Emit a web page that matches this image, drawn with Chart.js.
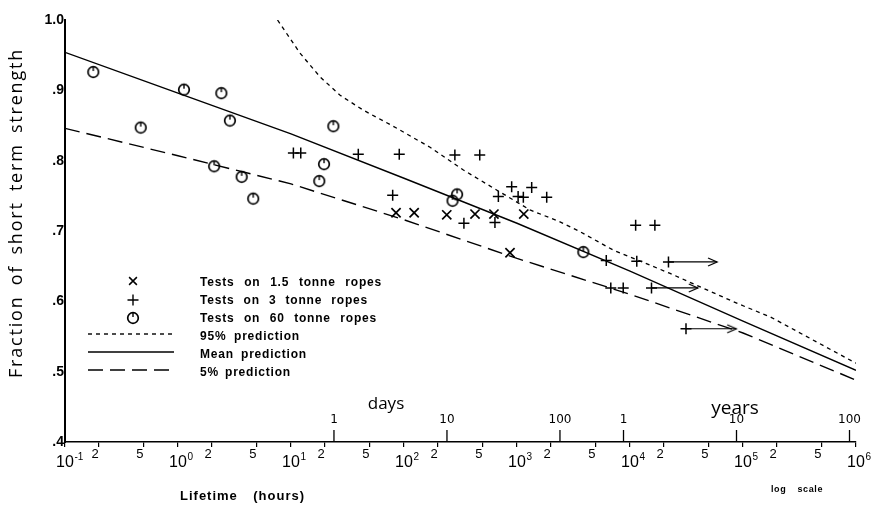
<!DOCTYPE html>
<html>
<head>
<meta charset="utf-8">
<script src="https://cdn.jsdelivr.net/npm/chart.js@4/dist/chart.umd.min.js"></script>
<style>
  html, body { margin: 0; padding: 0; background: #fff; }
  #c { display: block; }
</style>
</head>
<body>
<canvas id="c" width="871" height="506"></canvas>
<script>
// lifetime in hours, strength as fraction of short term strength
var ropes15Hours = [85, 123, 239, 425, 625, 1148, 867];
var ropes15Strength = [0.726, 0.726, 0.723, 0.724, 0.724, 0.724, 0.669];

var ropes3Hours = [10.5, 12.2, 39.4, 90.8, 282, 468, 79.4, 339, 638, 684, 897, 1023, 1138, 1349, 1832,
  6166, 11220, 16600, 11480, 6761, 8710];
var ropes3Strength = [0.811, 0.811, 0.809, 0.809, 0.808, 0.808, 0.751, 0.711, 0.712, 0.749, 0.763, 0.749, 0.748, 0.762, 0.748,
  0.658, 0.708, 0.708, 0.657, 0.619, 0.619];

// 3 tonne ropes still unbroken (run-outs)
var runoutStartHours = [21900, 15500, 31300];
var runoutEndHours = [58900, 39800, 87100];
var runoutStrength = [0.656, 0.619, 0.561];

var ropes60Hours = [0.178, 0.468, 1.13, 2.42, 2.88, 2.09, 3.66, 4.63, 23.7, 19.6, 17.8, 295, 269, 3864];
var ropes60Strength = [0.926, 0.847, 0.901, 0.896, 0.857, 0.792, 0.777, 0.746, 0.849, 0.795, 0.771, 0.752, 0.743, 0.670];

var meanHours = [0.1, 1, 10, 100, 1000, 10000, 100000, 1000000];
var meanStrength = [0.954, 0.896, 0.838, 0.775, 0.711, 0.643, 0.572, 0.502];
var lowHours = [0.1, 1, 10, 100, 1000, 10000, 100000, 1000000];
var lowStrength = [0.846, 0.807, 0.767, 0.716, 0.661, 0.610, 0.555, 0.488];
var highHours = [7.6, 12, 18.1, 27.2, 43.4, 86.7, 170, 333, 665, 1303, 2399, 3614, 7079, 22390, 89125, 173780, 1000000];
var highStrength = [1.0, 0.953, 0.919, 0.893, 0.872, 0.846, 0.819, 0.787, 0.758, 0.730, 0.713, 0.699, 0.673, 0.640, 0.597, 0.578, 0.512];

var decadeHours = [0.1, 1, 10, 100, 1000, 10000, 100000, 1000000];
var decadeExponents = ['-1', '0', '1', '2', '3', '4', '5', '6'];
var minorMultipliers = [2, 5];
var dayTicks = [1, 10, 100];
var yearTicks = [1, 10, 100];

var legendLabels = ['Tests on 1.5 tonne ropes', 'Tests on 3 tonne ropes', 'Tests on 60 tonne ropes',
  '95% prediction', 'Mean prediction', '5% prediction'];

function pts(xs, ys) {
  return xs.map(function (x, i) { return { x: x, y: ys[i] }; });
}

function makeCircle() {
  var cv = document.createElement('canvas');
  cv.width = 16; cv.height = 16;
  var g = cv.getContext('2d');
  g.strokeStyle = '#000';
  g.lineWidth = 1.7;
  g.beginPath(); g.arc(8, 8, 5.3, 0, Math.PI * 2); g.stroke();
  g.lineWidth = 1.4;
  g.beginPath(); g.moveTo(8, 2.7); g.lineTo(8, 7); g.stroke();
  return cv;
}

function makeArrow() {
  var cv = document.createElement('canvas');
  cv.width = 20; cv.height = 14;
  var g = cv.getContext('2d');
  g.strokeStyle = '#000';
  g.lineWidth = 1.3;
  g.beginPath(); g.moveTo(1, 3); g.lineTo(10, 7); g.lineTo(1, 11); g.stroke();
  return cv;
}

var circleStyle = makeCircle();
var arrowStyle = makeArrow();

var datasets = [
  { label: 'high', data: pts(highHours, highStrength), showLine: true, borderColor: '#000',
    borderWidth: 1.3, borderDash: [4, 4], pointRadius: 0 },
  { label: 'mean', data: pts(meanHours, meanStrength), showLine: true, borderColor: '#000',
    borderWidth: 1.4, pointRadius: 0 },
  { label: 'low', data: pts(lowHours, lowStrength), showLine: true, borderColor: '#000',
    borderWidth: 1.4, borderDash: [15, 7], pointRadius: 0 },
  { label: '1.5', data: pts(ropes15Hours, ropes15Strength), pointStyle: 'crossRot', pointRadius: 6.5,
    borderColor: '#000', borderWidth: 1.7 },
  { label: '3', data: pts(ropes3Hours.concat(runoutStartHours), ropes3Strength.concat(runoutStrength)),
    pointStyle: 'cross', pointRadius: 5.5, borderColor: '#000', borderWidth: 1.5 },
  { label: '60', data: pts(ropes60Hours, ropes60Strength), pointStyle: circleStyle, pointRadius: 6,
    borderColor: '#000' }
];

runoutStartHours.forEach(function (h, i) {
  datasets.push({
    label: 'runout' + i,
    data: [{ x: h, y: runoutStrength[i] }, { x: runoutEndHours[i], y: runoutStrength[i] }],
    showLine: true, borderColor: '#000', borderWidth: 1.2,
    pointStyle: arrowStyle, pointRadius: [0, 6]
  });
});

// spread letters a little, then widen the word gaps so the line fills the width
function fitText(ctx, text, x, y, width, letter) {
  ctx.letterSpacing = letter + 'px';
  ctx.wordSpacing = '0px';
  var w = ctx.measureText(text).width;
  var gaps = text.split(' ').length - 1;
  if (gaps > 0) ctx.wordSpacing = Math.max(0, (width - w) / gaps).toFixed(2) + 'px';
  ctx.fillText(text, x, y);
  ctx.wordSpacing = '0px';
  ctx.letterSpacing = '0px';
}

var decor = {
  id: 'decor',
  afterDraw: function (chart) {
    var ctx = chart.ctx;
    var xs = chart.scales.x;
    var area = chart.chartArea;
    var base = area.bottom;
    ctx.save();
    ctx.fillStyle = '#000';
    ctx.strokeStyle = '#000';
    ctx.textBaseline = 'middle';

    // decade labels 10^n
    decadeHours.forEach(function (h, i) {
      var x = xs.getPixelForValue(h);
      ctx.font = '16px "Liberation Sans"';
      ctx.textAlign = 'center';
      ctx.fillText('10', x, base + 21);
      var w = ctx.measureText('10').width;
      ctx.font = '10px "Liberation Sans"';
      ctx.textAlign = 'left';
      ctx.fillText(decadeExponents[i], x + w / 2 + 0.5, base + 15);
    });

    // 2 and 5 labels
    ctx.font = '13px "Liberation Sans"';
    ctx.textAlign = 'center';
    decadeHours.slice(0, -1).forEach(function (h) {
      minorMultipliers.forEach(function (m) {
        var x = xs.getPixelForValue(h * m);
        ctx.fillText(String(m), x - 4, base + 12);
      });
    });

    // days / years ticks above the axis
    ctx.lineWidth = 1.3;
    ctx.font = '12px "DejaVu Sans"';
    dayTicks.forEach(function (d) {
      var x = xs.getPixelForValue(d * 24);
      ctx.beginPath(); ctx.moveTo(x, base); ctx.lineTo(x, base - 12); ctx.stroke();
      ctx.fillText(String(d), x, base - 22);
    });
    yearTicks.forEach(function (yv) {
      var x = xs.getPixelForValue(yv * 8760);
      ctx.beginPath(); ctx.moveTo(x, base); ctx.lineTo(x, base - 12); ctx.stroke();
      ctx.fillText(String(yv), x, base - 22);
    });
    ctx.font = '17px "Open Sans"';
    ctx.fillText('days', 386, 404);
    ctx.font = '19px "Open Sans"';
    ctx.fillText('years', 735, 409);

    // axis titles
    ctx.font = 'bold 13px "Liberation Sans"';
    ctx.textAlign = 'left';
    fitText(ctx, 'Lifetime (hours)', 180, 496, 125, 1);
    ctx.font = 'bold 9px "Liberation Sans"';
    fitText(ctx, 'log scale', 771, 490, 52, 0.6);

    ctx.save();
    ctx.translate(17, 213);
    ctx.rotate(-Math.PI / 2);
    ctx.font = '18px "Open Sans"';
    ctx.textAlign = 'left';
    fitText(ctx, 'Fraction of short term strength', -165, 0, 330, 1.8);
    ctx.restore();

    // legend
    var rows = [283, 301, 319, 337, 355, 373];
    var widths = [182, 168, 177, 100, 107, 91];
    ctx.font = 'bold 12px "Liberation Sans"';
    ctx.textAlign = 'left';
    legendLabels.forEach(function (t, i) {
      fitText(ctx, t, 200, rows[i], widths[i], 0.8);
    });
    ctx.lineWidth = 1.5;
    Chart.helpers.drawPoint(ctx, { pointStyle: 'crossRot', radius: 5.5, borderWidth: 1.5 }, 133, rows[0] - 2);
    ctx.lineWidth = 1.4;
    Chart.helpers.drawPoint(ctx, { pointStyle: 'cross', radius: 5.5, borderWidth: 1.4 }, 133, rows[1] - 1);
    Chart.helpers.drawPoint(ctx, { pointStyle: circleStyle, radius: 6 }, 133, rows[2] - 1);
    var dashes = [[4, 4], [], [15, 7]];
    dashes.forEach(function (d, i) {
      ctx.setLineDash(d);
      ctx.lineWidth = 1.4;
      ctx.beginPath();
      ctx.moveTo(88, rows[3 + i] - 3);
      ctx.lineTo(174, rows[3 + i] - 3);
      ctx.stroke();
    });
    ctx.setLineDash([]);
    ctx.restore();
  }
};

new Chart(document.getElementById('c'), {
  type: 'scatter',
  data: { datasets: datasets },
  options: {
    responsive: false,
    animation: false,
    devicePixelRatio: 1,
    layout: { padding: { top: 20, right: 15, left: 0, bottom: 0 } },
    plugins: { legend: { display: false }, tooltip: { enabled: false } },
    scales: {
      x: {
        type: 'logarithmic',
        min: 0.1,
        max: 1000000,
        afterBuildTicks: function (s) {
          var list = [];
          decadeHours.forEach(function (h, i) {
            list.push({ value: h });
            if (i < decadeHours.length - 1) {
              minorMultipliers.forEach(function (m) { list.push({ value: h * m }); });
            }
          });
          s.ticks = list;
        },
        afterFit: function (s) { s.height = 64; },
        ticks: { display: false, autoSkip: false },
        grid: { display: true, drawOnChartArea: false, drawTicks: true, tickLength: 5, color: '#000', lineWidth: 1.2 },
        border: { display: true, color: '#000', width: 1.5 }
      },
      y: {
        min: 0.4,
        max: 1.0,
        afterFit: function (s) { s.width = 65; },
        ticks: {
          stepSize: 0.1,
          padding: 1,
          color: '#000',
          font: { family: '"Liberation Sans"', size: 14, weight: 'bold' },
          callback: function (v) {
            var n = Math.round(v * 10);
            return n === 10 ? '1.0' : '.' + n;
          }
        },
        grid: { display: false, drawTicks: false },
        border: { display: true, color: '#000', width: 2 }
      }
    }
  },
  plugins: [decor]
});
</script>
</body>
</html>
